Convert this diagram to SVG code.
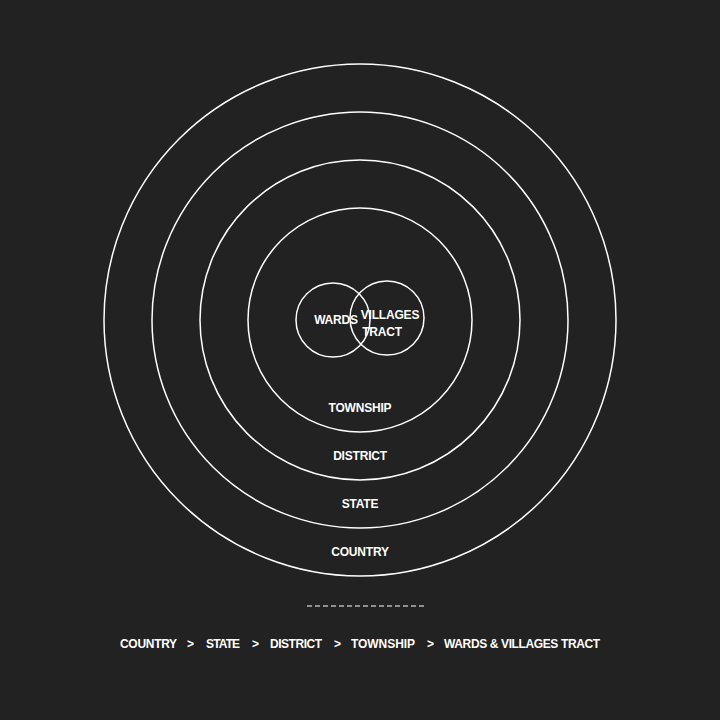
<svg xmlns="http://www.w3.org/2000/svg" width="720" height="720" viewBox="0 0 720 720">
<style>
.ring{fill:none;stroke:#fff;stroke-width:1.5}
.t{fill:#fff;font-family:"Liberation Sans",Arial,sans-serif;font-size:12px;font-weight:bold;text-anchor:middle;letter-spacing:-0.2px}
.l{fill:#fff;font-family:"Liberation Sans",Arial,sans-serif;font-size:12px;font-weight:bold;letter-spacing:-0.1px}
</style>
<rect width="720" height="720" fill="#222"/>
<g id="country"><circle class="ring" cx="360" cy="320" r="256"/><text class="t" x="360" y="556">COUNTRY</text></g>
<g id="state"><circle class="ring" cx="360" cy="320" r="208"/><text class="t" x="360" y="508">STATE</text></g>
<g id="district"><circle class="ring" cx="360" cy="320" r="160"/><text class="t" x="360" y="460">DISTRICT</text></g>
<g id="township"><circle class="ring" cx="360" cy="320" r="112"/><text class="t" x="360" y="412">TOWNSHIP</text></g>
<g id="wards"><circle class="ring" cx="333" cy="320" r="37"/><text class="t" x="336" y="324">WARDS</text></g>
<g id="villages"><circle class="ring" cx="387" cy="318" r="37"/><text class="t" x="390" y="319">VILLAGES</text><text class="t" x="382" y="336">TRACT</text></g>
<g id="legend">
<line x1="307" y1="606" x2="424" y2="606" stroke="#fff" stroke-width="1" stroke-dasharray="5 3"/>
<text class="l" x="120" y="648" textLength="57">COUNTRY</text>
<text class="l" x="187" y="648">&gt;</text>
<text class="l" x="206" y="648" textLength="34">STATE</text>
<text class="l" x="252" y="648">&gt;</text>
<text class="l" x="270" y="648" textLength="52">DISTRICT</text>
<text class="l" x="334" y="648">&gt;</text>
<text class="l" x="351" y="648" textLength="64">TOWNSHIP</text>
<text class="l" x="427" y="648">&gt;</text>
<text class="l" x="444" y="648" textLength="156">WARDS &amp; VILLAGES TRACT</text>
</g>
</svg>
